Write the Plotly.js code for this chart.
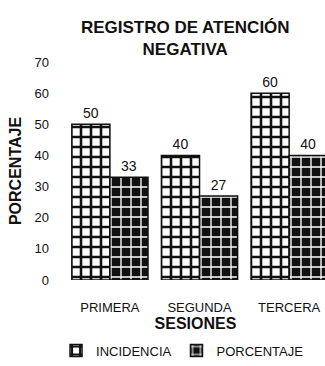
<!DOCTYPE html>
<html><head><meta charset="utf-8">
<script src="https://cdn.plot.ly/plotly-3.0.1.min.js"></script>
<style>html,body{margin:0;padding:0;background:#fff}</style>
</head><body><div id="chart" style="width:325px;height:366px"></div>
<script>
const categories = ["PRIMERA", "SEGUNDA", "TERCERA"];
const incidencia = [50, 40, 60];
const porcentaje = [33, 27, 40];
const yTicks = [0, 10, 20, 30, 40, 50, 60, 70];

const FONT = "Liberation Sans, Arial, sans-serif";
const traces = [
  {
    type: "bar", name: "INCIDENCIA", x: categories, y: incidencia,
    text: incidencia.map(String), textposition: "outside", cliponaxis: false,
    textfont: {family: FONT, size: 14, color: "#111"},
    marker: {color: "#fff", line: {color: "#111", width: 1.5},
      pattern: {shape: "+", fgcolor: "#111", bgcolor: "#fff", size: 10, solidity: 0.45, fillmode: "replace"}}
  },
  {
    type: "bar", name: "PORCENTAJE", x: categories, y: porcentaje,
    text: porcentaje.map(String), textposition: "outside", cliponaxis: false,
    textfont: {family: FONT, size: 14, color: "#111"},
    marker: {color: "#111", line: {color: "#111", width: 1.5},
      pattern: {shape: "+", fgcolor: "#fff", bgcolor: "#111", size: 10, solidity: 0.25, fillmode: "replace"}}
  }
];

const layout = {
  width: 325, height: 366,
  margin: {l: 66, r: 0, t: 62, b: 78},
  paper_bgcolor: "#fff", plot_bgcolor: "#fff",
  font: {family: FONT, color: "#111"},
  barmode: "group", bargap: 0.15, bargroupgap: 0,
  title: {text: "<b>REGISTRO DE ATENCIÓN<br>NEGATIVA</b>", x: 0.57, xanchor: "center",
    yref: "container", y: 0.911, yanchor: "middle",
    font: {family: FONT, size: 17, color: "#111"}},
  xaxis: {range: [-0.49, 2.4], showgrid: false, zeroline: false, showline: false,
    ticks: "", ticklabelstandoff: 18, tickfont: {family: FONT, size: 13, color: "#111"},
    title: {text: "<b>SESIONES</b>", standoff: 3, font: {family: FONT, size: 16, color: "#111"}}},
  yaxis: {range: [0, 70], tickvals: yTicks, showgrid: false, zeroline: false, showline: false,
    ticks: "", ticklabelstandoff: 16, tickfont: {family: FONT, size: 13, color: "#111"},
    title: {text: "<b>PORCENTAJE</b>", standoff: 8, font: {family: FONT, size: 16, color: "#111"}}},
  legend: {orientation: "h", x: 0.45, xanchor: "center", y: -0.255, yanchor: "top",
    font: {family: FONT, size: 13, color: "#111"}, itemwidth: 30, tracegroupgap: 0},
  showlegend: true
};
Plotly.newPlot("chart", traces, layout, {displayModeBar: false, staticPlot: true});
</script></body></html>
